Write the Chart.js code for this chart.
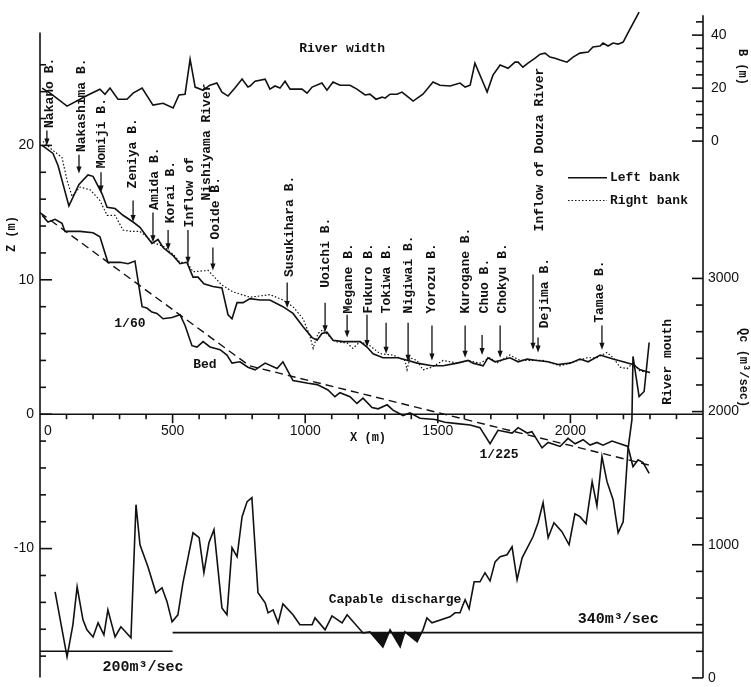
<!DOCTYPE html>
<html>
<head>
<meta charset="utf-8">
<script src="https://cdn.jsdelivr.net/npm/chart.js@4.4.1/dist/chart.umd.min.js"></script>
<style>
  html, body { margin: 0; padding: 0; background: #fff; }
  canvas { display: block; }
</style>
</head>
<body>
<canvas id="profile" width="751" height="687"></canvas>
<script>
// River width B (m) along the channel, X (m)
const widthX = [8, 38, 102, 181, 226, 245, 264, 294, 328, 351, 385, 426, 464, 502, 524, 547, 566, 585, 615, 641,
  667, 686, 709, 735, 762, 784, 792, 811, 849, 867, 886, 905, 924, 943, 988, 1007, 1026, 1063, 1082, 1105,
  1131, 1169, 1195, 1226, 1244, 1267, 1290, 1301, 1320, 1346, 1365, 1384, 1407, 1444, 1482, 1508, 1546, 1584, 1603, 1622,
  1640, 1686, 1708, 1735, 1765, 1791, 1803, 1821, 1840, 1867, 1886, 1904, 1923, 1942, 1961, 1987, 2010, 2036, 2067, 2085,
  2112, 2123, 2142, 2161, 2180, 2199, 2217, 2259];
const widthB = [20.0, 18.1, 13.2, 17.4, 19.6, 17.7, 20.0, 15.8, 15.8, 18.1, 20.0, 13.6, 14.3, 12.5, 17.4, 17.7, 30.9, 20.4, 19.2, 21.1,
  21.9, 18.5, 17.0, 20.0, 23.4, 20.4, 20.8, 22.6, 23.4, 19.6, 20.8, 20.0, 22.6, 19.6, 19.6, 18.1, 20.4, 21.9, 19.2, 22.3,
  21.1, 21.1, 19.6, 17.4, 17.7, 15.8, 16.6, 16.2, 17.7, 17.7, 18.5, 17.0, 15.1, 17.7, 22.3, 21.1, 20.8, 21.9, 20.4, 21.1,
  29.4, 18.5, 24.9, 28.7, 27.5, 29.8, 29.8, 27.9, 29.4, 31.3, 32.8, 33.2, 31.7, 31.3, 30.6, 29.8, 31.7, 33.2, 33.6, 35.5,
  35.9, 37.0, 35.9, 37.0, 36.6, 37.4, 40.8, 48.7];

// Left bank height Z (m)
const leftX = [8, 49, 68, 109, 147, 181, 200, 234, 253, 283, 313, 351, 377, 403, 422, 445, 464, 483, 502, 528,
  554, 577, 596, 618, 652, 686, 709, 724, 743, 766, 792, 830, 867, 916, 954, 992, 1026, 1045, 1063, 1082,
  1105, 1143, 1207, 1233, 1256, 1293, 1320, 1350, 1388, 1422, 1478, 1520, 1573, 1614, 1633, 1671, 1689, 1716, 1735, 1772,
  1803, 1837, 1874, 1916, 1953, 1999, 2036, 2067, 2112, 2161, 2199, 2236, 2263, 2300];
const leftZ = [20.0, 19.4, 18.5, 15.5, 17.1, 17.8, 17.7, 16.4, 15.4, 15.3, 14.8, 14.3, 13.9, 13.2, 12.7, 13.0, 12.4, 12.1, 11.8, 11.2,
  11.3, 10.2, 10.2, 9.7, 9.5, 9.4, 7.4, 7.1, 8.3, 8.3, 8.6, 8.5, 8.5, 8.0, 7.5, 6.5, 5.7, 5.5, 6.0, 6.1,
  5.5, 5.4, 5.4, 5.0, 4.5, 4.2, 4.2, 4.2, 4.0, 3.8, 3.6, 3.6, 3.8, 4.0, 3.8, 3.6, 4.2, 3.9, 4.0, 4.2,
  3.9, 4.1, 4.0, 3.9, 3.7, 3.8, 4.1, 3.9, 4.4, 4.1, 3.9, 3.7, 3.3, 3.1];

// Right bank height Z (m)
const rightX = [11, 38, 83, 102, 121, 151, 189, 226, 253, 283, 313, 347, 377, 403, 422, 464, 502, 528, 554, 577,
  634, 686, 728, 792, 867, 916, 954, 992, 1018, 1030, 1048, 1067, 1086, 1112, 1158, 1180, 1207, 1244, 1282, 1331,
  1376, 1384, 1395, 1422, 1444, 1478, 1520, 1573, 1614, 1659, 1697, 1723, 1772, 1810, 1897, 1961, 2029, 2063, 2100, 2138,
  2161, 2187, 2214, 2236, 2263, 2300];
const rightZ = [20.3, 19.8, 19.1, 17.4, 16.2, 16.9, 16.7, 15.9, 14.8, 14.8, 13.7, 13.6, 13.6, 13.2, 12.8, 12.5, 11.9, 11.3, 11.3, 10.6,
  10.7, 9.6, 9.1, 8.7, 8.9, 8.5, 8.0, 7.1, 5.8, 4.9, 6.0, 6.3, 5.9, 5.4, 5.3, 4.9, 5.4, 5.1, 4.5, 4.4,
  4.0, 3.3, 4.2, 4.0, 3.3, 3.5, 4.0, 3.8, 4.0, 3.8, 4.2, 3.8, 4.4, 4.0, 4.0, 3.6, 4.0, 4.2, 4.2, 4.6,
  4.2, 3.5, 3.4, 3.8, 3.2, 3.1];

// Bed height Z (m)
const bedX = [8, 30, 57, 83, 94, 151, 200, 226, 256, 302, 332, 358, 385, 403, 422, 441, 464, 498, 528, 547,
  573, 592, 615, 641, 679, 705, 724, 754, 784, 811, 849, 894, 916, 954, 1011, 1045, 1086, 1112, 1131, 1169,
  1195, 1218, 1252, 1275, 1309, 1331, 1369, 1395, 1433, 1490, 1527, 1573, 1622, 1659, 1697, 1727, 1780, 1803, 1837, 1855,
  1893, 1916, 1961, 1991, 2018, 2048, 2074, 2100, 2123, 2157, 2187, 2217, 2236, 2255, 2274, 2297];
const bedZ = [14.8, 14.3, 14.5, 14.2, 13.6, 13.6, 13.5, 13.2, 11.3, 11.3, 11.2, 11.4, 8.0, 7.9, 7.6, 7.5, 7.1, 7.2, 7.4, 6.6,
  5.1, 5.0, 5.4, 5.0, 4.8, 4.4, 3.8, 3.9, 3.5, 3.3, 3.8, 3.4, 3.9, 2.5, 2.3, 2.2, 1.8, 1.3, 1.6, 1.3,
  0.8, 1.2, 0.5, 0.4, 0.7, 0.3, -0.1, 0.1, -0.3, -0.4, -0.6, -0.7, -0.8, -1.0, -2.2, -1.2, -1.4, -1.0, -1.4, -1.3,
  -2.5, -2.1, -2.4, -1.8, -2.2, -1.9, -2.3, -2.1, -2.3, -2.0, -2.2, -2.4, -3.9, -3.4, -3.6, -4.4];

// Mean bed slopes 1/60 and 1/225 (dashed)
const slopeX = [0, 790, 2300];
const slopeZ = [15.0, 3.6, -3.8];

// Capable discharge Qc (m3/sec)
const qcX = [57, 102, 124, 140, 162, 177, 200, 219, 241, 256, 283, 305, 343, 362, 377, 407, 437, 460, 479, 498,
  520, 539, 558, 577, 600, 618, 637, 656, 686, 705, 724, 743, 762, 781, 799, 822, 849, 860, 879, 898,
  916, 954, 980, 1026, 1037, 1075, 1101, 1139, 1158, 1218, 1244, 1293, 1320, 1358, 1376, 1422, 1444, 1459, 1478, 1546,
  1565, 1584, 1595, 1603, 1618, 1637, 1659, 1678, 1697, 1716, 1735, 1761, 1780, 1799, 1818, 1859, 1878, 1897, 1916, 1938,
  1968, 1995, 2017, 2036, 2059, 2082, 2100, 2119, 2138, 2161, 2180, 2199, 2217, 2232, 2236, 2259, 2278, 2297];
const qcQ = [647, 158, 399, 684, 436, 361, 308, 414, 323, 511, 308, 384, 301, 1301, 1000, 835, 639, 677, 572, 421,
  474, 714, 902, 1090, 1053, 790, 1015, 1113, 526, 474, 978, 910, 1211, 1324, 1354, 639, 564, 489, 511, 414,
  556, 474, 399, 399, 451, 361, 466, 414, 474, 338, 346, 233, 361, 233, 346, 271, 361, 451, 414, 459,
  489, 489, 549, 587, 519, 722, 722, 790, 729, 872, 910, 925, 985, 737, 902, 1060, 1166, 1316, 1053, 1166,
  1098, 1000, 1233, 1211, 1158, 1474, 1293, 1662, 1474, 1339, 1090, 1173, 1715, 1940, 2414, 2113, 2151, 2519];

// Design discharge levels (m3/sec) and the reaches they apply to
const designQ = [200, 340];
const designFrom = [0, 500];
const designTo = [500, 2500];

// Axis tick labels
const xTicks = [0, 500, 1000, 1500, 2000];
const zTicks = [20, 10, 0, -10];
const bTicks = [40, 20, 0];
const qcTicks = [3000, 2000, 1000, 0];

// Bridge and inflow labels: text x, text base z, arrow x, arrow from/to z
const notes = [
  { t: ['Nakano B.'], x: 38, base: 21.3, ax: 26, a0: 21.1, a1: 20.0 },
  { t: ['Nakashima B.'], x: 158, base: 19.5, ax: 147, a0: 19.3, a1: 17.9 },
  { t: ['Momiji B.'], x: 234, base: 18.3, ax: 230, a0: 18.0, a1: 16.5 },
  { t: ['Zeniya B.'], x: 351, base: 16.8, ax: 351, a0: 15.9, a1: 14.3 },
  { t: ['Amida B.'], x: 434, base: 15.2, ax: 426, a0: 15.0, a1: 12.8 },
  { t: ['Korai B.'], x: 494, base: 14.2, ax: 483, a0: 13.7, a1: 12.2 },
  { t: ['Inflow of', 'Nishiyama River'], x: 566, x2: 630, base: 13.9, base2: 15.9, ax: 558, a0: 13.7, a1: 11.2 },
  { t: ['Ooide B.'], x: 664, base: 13.0, ax: 652, a0: 12.4, a1: 10.7 },
  { t: ['Susukihara B.'], x: 943, base: 10.2, ax: 932, a0: 9.8, a1: 7.9 },
  { t: ['Uoichi B.'], x: 1078, base: 9.4, ax: 1075, a0: 8.3, a1: 6.1 },
  { t: ['Megane B.'], x: 1165, base: 7.5, ax: 1158, a0: 7.4, a1: 5.7 },
  { t: ['Fukuro B.'], x: 1241, base: 7.5, ax: 1233, a0: 7.4, a1: 5.0 },
  { t: ['Tokiwa B.'], x: 1308, base: 7.5, ax: 1305, a0: 6.8, a1: 4.5 },
  { t: ['Nigiwai B.'], x: 1391, base: 7.5, ax: 1388, a0: 6.8, a1: 3.9 },
  { t: ['Yorozu B.'], x: 1478, base: 7.5, ax: 1478, a0: 6.6, a1: 4.0 },
  { t: ['Kurogane B.'], x: 1606, base: 7.5, ax: 1603, a0: 6.6, a1: 4.2 },
  { t: ['Chuo B.'], x: 1678, base: 7.5, ax: 1667, a0: 5.9, a1: 4.4 },
  { t: ['Chokyu B.'], x: 1746, base: 7.5, ax: 1735, a0: 6.6, a1: 4.2 },
  { t: ['Inflow of Douza River'], x: 1886, base: 13.6, ax: 1859, a0: 10.4, a1: 4.8 },
  { t: ['Dejima B.'], x: 1904, base: 6.4, ax: 1878, a0: 5.7, a1: 4.6 },
  { t: ['Tamae B.'], x: 2112, base: 6.8, ax: 2119, a0: 6.6, a1: 4.8 },
  { t: ['River mouth'], x: 2368, base: 0.7 }
];

const pts = (xs, ys) => xs.map((x, i) => ({ x: x, y: ys[i] }));
const mono = '"Liberation Mono", "DejaVu Sans Mono", monospace';
const sans = '"Liberation Sans", Arial, sans-serif';

const axesAndNotes = {
  id: 'axesAndNotes',
  afterDatasetsDraw(chart) {
    const { ctx, scales } = chart;
    const X = v => scales.x.getPixelForValue(v);
    const Z = v => scales.y.getPixelForValue(v);
    const B = v => scales.yB.getPixelForValue(v);
    const Q = v => scales.yQ.getPixelForValue(v);
    const seg = (x1, y1, x2, y2) => { ctx.beginPath(); ctx.moveTo(x1, y1); ctx.lineTo(x2, y2); ctx.stroke(); };
    const vText = (s, px, py, dir) => { ctx.save(); ctx.translate(px, py); ctx.rotate(dir * Math.PI / 2); ctx.fillText(s, 0, 0); ctx.restore(); };

    ctx.save();
    ctx.strokeStyle = '#111';
    ctx.fillStyle = '#111';
    ctx.lineWidth = 1.6;
    const xl = X(0), xr = X(2500), y0 = Z(0);

    // left Z axis, ticks inside
    seg(xl, Z(28.4), xl, Z(-19.6));
    for (let v = -18; v <= 26; v += 2) seg(xl, Z(v), xl + (v % 10 === 0 ? 12 : 6), Z(v));
    // right axis: B on top, Qc below
    seg(xr, B(47.5), xr, Q(0));
    for (let v = 0; v <= 45; v += 5) seg(xr, B(v), xr - (v % 20 === 0 ? 11 : 7), B(v));
    for (let v = 0; v <= 3000; v += 200) seg(xr, Q(v), xr - (v % 1000 === 0 ? 11 : 7), Q(v));
    // X axis along Z = 0
    seg(xl, y0, xr, y0);
    for (let v = 100; v < 2500; v += 100) seg(X(v), y0, X(v), y0 + (v % 500 === 0 ? 9 : 5));

    ctx.font = '14px ' + sans;
    ctx.textBaseline = 'middle';
    ctx.textAlign = 'right';
    zTicks.forEach(v => ctx.fillText(String(v), xl - 6, Z(v)));
    ctx.textAlign = 'left';
    bTicks.forEach(v => ctx.fillText(String(v), xr + 8, B(v)));
    qcTicks.forEach(v => ctx.fillText(String(v), xr + 5, Q(v)));
    ctx.textAlign = 'center';
    xTicks.forEach(v => ctx.fillText(String(v), X(v) + (v === 0 ? 8 : 0), y0 + 17));

    // axis titles
    ctx.font = 'bold 12px ' + mono;
    ctx.fillText('X (m)', X(1237), Z(-1.8));
    vText('Z (m)', 12, Z(13.4), -1);
    vText('B (m)', 742, B(28), 1);
    vText('Qc (m³/sec)', 743, Q(2330), 1);

    // bridge labels and arrows
    ctx.font = 'bold 13px ' + mono;
    ctx.textAlign = 'left';
    ctx.lineWidth = 1.3;
    notes.forEach(n => {
      vText(n.t[0], X(n.x), Z(n.base), -1);
      if (n.t[1]) vText(n.t[1], X(n.x2), Z(n.base2), -1);
      if (n.ax === undefined) return;
      const ax = X(n.ax), t = Z(n.a1);
      seg(ax, Z(n.a0), ax, t - 4);
      ctx.beginPath();
      ctx.moveTo(ax - 2.6, t - 7);
      ctx.lineTo(ax + 2.6, t - 7);
      ctx.lineTo(ax, t);
      ctx.closePath();
      ctx.fill();
    });

    // curve labels
    ctx.textAlign = 'center';
    ctx.fillText('River width', X(1139), Z(27.2));
    ctx.fillText('Bed', X(622), Z(3.65));
    ctx.fillText('1/60', X(339), Z(6.7));
    ctx.fillText('1/225', X(1731), Z(-3.0));
    ctx.fillText('Capable discharge', X(1339), Q(587));
    ctx.font = 'bold 15px ' + mono;
    ctx.fillText('200m³/sec', X(388), Q(83));
    ctx.fillText('340m³/sec', X(2180), Q(444));

    // legend
    ctx.font = 'bold 13px ' + mono;
    ctx.textAlign = 'left';
    ctx.lineWidth = 1.5;
    seg(X(1991), Z(17.6), X(2138), Z(17.6));
    ctx.fillText('Left bank', X(2149), Z(17.6));
    ctx.setLineDash([1.5, 2]);
    ctx.lineWidth = 1.2;
    seg(X(1991), Z(15.9), X(2138), Z(15.9));
    ctx.setLineDash([]);
    ctx.fillText('Right bank', X(2149), Z(15.9));
    ctx.restore();
  }
};

const solid = { borderColor: '#111', borderWidth: 1.6, pointRadius: 0, fill: false, clip: false };

new Chart(document.getElementById('profile'), {
  type: 'line',
  data: {
    datasets: [
      Object.assign({ label: 'River width', data: pts(widthX, widthB), yAxisID: 'yB' }, solid),
      Object.assign({ label: 'Left bank', data: pts(leftX, leftZ), yAxisID: 'y' }, solid),
      Object.assign({ label: 'Right bank', data: pts(rightX, rightZ), yAxisID: 'y' }, solid,
        { borderWidth: 1.2, borderDash: [1.5, 2] }),
      Object.assign({ label: 'Bed', data: pts(bedX, bedZ), yAxisID: 'y' }, solid),
      Object.assign({ label: 'Slope', data: pts(slopeX, slopeZ), yAxisID: 'y' }, solid,
        { borderWidth: 1.4, borderDash: [8, 5] }),
      Object.assign({ label: 'Capable discharge', data: pts(qcX, qcQ), yAxisID: 'yQ' }, solid),
      {
        label: 'Deficit', yAxisID: 'yQ', pointRadius: 0, borderWidth: 0, clip: false,
        data: pts(qcX, qcQ).filter(p => p.x >= designFrom[1]),
        fill: { target: { value: designQ[1] }, above: 'rgba(0,0,0,0)', below: '#111' }
      },
      Object.assign({ label: '200', data: [{ x: designFrom[0], y: designQ[0] }, { x: designTo[0], y: designQ[0] }], yAxisID: 'yQ' }, solid),
      Object.assign({ label: '340', data: [{ x: designFrom[1], y: designQ[1] }, { x: designTo[1], y: designQ[1] }], yAxisID: 'yQ' }, solid)
    ]
  },
  options: {
    responsive: false,
    devicePixelRatio: 1,
    animation: false,
    events: [],
    layout: { padding: { left: 40, right: 48, top: 11, bottom: 4 } },
    elements: { line: { tension: 0 } },
    plugins: { legend: { display: false }, tooltip: { enabled: false } },
    scales: {
      x: { type: 'linear', min: 0, max: 2500, display: false },
      y: { min: -20, max: 30, display: false },
      yB: { min: -204.5, max: 49.1, display: false },
      yQ: { min: -38, max: 5008, display: false }
    }
  },
  plugins: [axesAndNotes]
});
</script>
</body>
</html>
